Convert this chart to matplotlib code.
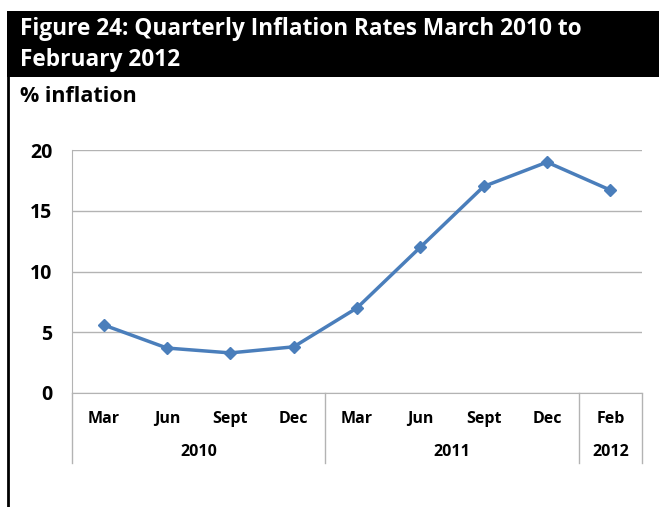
import matplotlib.pyplot as plt
from matplotlib.patches import Rectangle
from matplotlib.lines import Line2D

months = ['Mar', 'Jun', 'Sept', 'Dec', 'Mar', 'Jun', 'Sept', 'Dec', 'Feb']
years = ['2010', '2011', '2012']
year_spans = [(0, 3), (4, 7), (8, 8)]
inflation = [5.6, 3.7, 3.3, 3.8, 7.0, 12.0, 17.0, 19.0, 16.7]

W, H = 659, 507
fig = plt.figure(figsize=(W / 100, H / 100), dpi=100)

# title band and left border
fig.add_artist(Rectangle((7 / W, 1 - 77 / H), 1, 66 / H, transform=fig.transFigure,
                         facecolor='black', edgecolor='none'))
fig.add_artist(Line2D([8 / W, 8 / W], [0, 1 - 77 / H], transform=fig.transFigure,
                      color='black', lw=2))
fig.text(20 / W, 1 - 29 / H, 'Figure 24: Quarterly Inflation Rates March 2010 to',
         color='white', fontsize=16.3, fontweight='bold', family='Open Sans', va='center')
fig.text(20 / W, 1 - 60 / H, 'February 2012',
         color='white', fontsize=16.3, fontweight='bold', family='Open Sans', va='center')
fig.text(20 / W, 1 - 97 / H, '% inflation',
         color='black', fontsize=15.5, fontweight='bold', family='Open Sans', va='center')

ax = fig.add_axes([72 / W, (H - 393) / H, 570 / W, 243 / H])
x = list(range(len(months)))
ax.plot(x, inflation, color='#4a7ebb', lw=2.5, marker='D', markersize=6.5)

ax.set_xlim(-0.5, len(months) - 0.5)
ax.set_ylim(0, 20)
ax.set_yticks([0, 5, 10, 15, 20])
ax.yaxis.grid(True, color='#b3b3b3', lw=1)
ax.set_axisbelow(True)
for s in ['top', 'right']:
    ax.spines[s].set_visible(False)
for s in ['left', 'bottom']:
    ax.spines[s].set_color('#b3b3b3')
ax.tick_params(axis='y', length=0, pad=14, labelsize=14)
for lab in ax.get_yticklabels():
    lab.set_fontweight('bold')
    lab.set_family('Open Sans')

ax.set_xticks(x)
ax.set_xticklabels(months, fontsize=11.5, fontweight='bold', family='Open Sans')
ax.tick_params(axis='x', length=0, pad=13)

tr = ax.get_xaxis_transform()
edges = [-0.5] + [e + 0.5 for _, e in year_spans]
for e in edges:
    ax.plot([e, e], [0, -0.288], transform=tr, color='#b3b3b3', lw=1, clip_on=False)
for yr, (a, b) in zip(years, year_spans):
    ax.text((a + b) / 2, -0.243, yr, transform=tr, ha='center', va='center',
            fontsize=11.5, fontweight='bold', family='Open Sans')

fig.savefig('out.png', dpi=100)
